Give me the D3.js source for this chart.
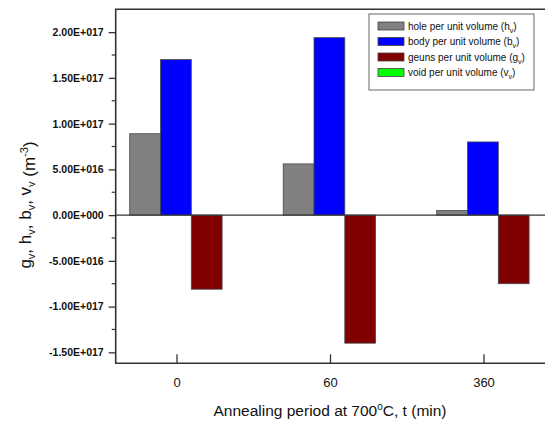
<!DOCTYPE html>
<html>
<head>
<meta charset="utf-8">
<script src="https://cdn.jsdelivr.net/npm/d3@7"></script>
<style>
  body { margin: 0; background: #fff; }
  svg { font-family: "Liberation Sans", Arial, sans-serif; }
</style>
</head>
<body>
<svg id="vis" width="545" height="430"></svg>
<script>
// annealing periods (min)
const periods = ["0", "60", "360"];

// per unit volume values (m^-3)
const holes = [8.9e16, 5.6e16, 0.5e16];
const bodies = [1.70e17, 1.94e17, 0.80e17];
const geuns = [-0.81e17, -1.40e17, -0.75e17];
const voids = [0, 0, 0];

const yTicks = [-1.5e17, -1.0e17, -0.5e17, 0, 0.5e17, 1.0e17, 1.5e17, 2.0e17];

const series = [
  { key: "h", name: "hole per unit volume", values: holes, color: "#808080" },
  { key: "b", name: "body per unit volume", values: bodies, color: "#0000ff" },
  { key: "g", name: "geuns per unit volume", values: geuns, color: "#800000" },
  { key: "v", name: "void per unit volume", values: voids, color: "#00ff00" }
];

const svg = d3.select("svg#vis");

const plot = { left: 115.7, right: 560, top: 9.3, bottom: 363.3 };

const y = d3.scaleLinear()
  .domain([-1.62e17, 2.25e17])
  .range([plot.bottom, plot.top]);

// category centers
const x = d3.scaleLinear()
  .domain([0, periods.length - 1])
  .range([176.5, 483.5]);

const barWidth = 30.8;
const groupOffset = -46.8;

// format like 2.00E+017
function sci(v) {
  const parts = v.toExponential(2).split("e");
  const sign = parts[1][0];
  const exp = parts[1].slice(1).padStart(3, "0");
  return parts[0] + "E" + sign + exp;
}

// bars
series.forEach(function(s, j) {
  svg.append("g").attr("class", "bars-" + s.key)
    .selectAll("rect")
    .data(s.values)
    .enter()
    .append("rect")
      .attr("x", (d, i) => x(i) + groupOffset + j * barWidth)
      .attr("y", d => Math.min(y(d), y(0)))
      .attr("width", barWidth)
      .attr("height", d => Math.abs(y(d) - y(0)))
      .attr("fill", s.color)
      .attr("stroke", "#4a4a4a")
      .attr("stroke-width", 0.8);
});

// zero line
svg.append("line")
  .attr("x1", plot.left).attr("x2", plot.right)
  .attr("y1", y(0)).attr("y2", y(0))
  .attr("stroke", "#333").attr("stroke-width", 1.2);

// frame
svg.append("path")
  .attr("d", `M${plot.right},${plot.top}H${plot.left}V${plot.bottom}H${plot.right}`)
  .attr("fill", "none")
  .attr("stroke", "#333")
  .attr("stroke-width", 1.6);

// y axis (major + minor ticks outside)
const yAxis = d3.axisLeft(y)
  .tickValues(yTicks)
  .tickSize(7)
  .tickPadding(5)
  .tickFormat(sci);

const ya = svg.append("g")
  .attr("transform", `translate(${plot.left},0)`)
  .call(yAxis);
ya.select(".domain").remove();
ya.selectAll(".tick line").attr("stroke", "#333").attr("stroke-width", 1.3);
ya.selectAll(".tick text")
  .attr("fill", "#111")
  .style("font-size", "10.5px")
  .style("font-weight", "bold");

const minor = d3.range(-1.5e17, 2.25e17, 0.25e17).filter(v => yTicks.indexOf(v) < 0);
svg.append("g").selectAll("line")
  .data(minor)
  .enter()
  .append("line")
    .attr("x1", plot.left - 4).attr("x2", plot.left)
    .attr("y1", d => y(d)).attr("y2", d => y(d))
    .attr("stroke", "#333").attr("stroke-width", 1.2);

// x axis (ticks inside)
const xAxis = d3.axisBottom(x)
  .tickValues(d3.range(periods.length))
  .tickSize(-9)
  .tickPadding(14)
  .tickFormat(i => periods[i]);

const xa = svg.append("g")
  .attr("transform", `translate(0,${plot.bottom})`)
  .call(xAxis);
xa.select(".domain").remove();
xa.selectAll(".tick line").attr("stroke", "#333").attr("stroke-width", 1.3);
xa.selectAll(".tick text")
  .attr("fill", "#111")
  .style("font-size", "13px");

// x title
const xt = svg.append("text")
  .attr("x", 330)
  .attr("y", 416)
  .attr("text-anchor", "middle")
  .attr("fill", "#111")
  .style("font-size", "15.5px");
xt.append("tspan").text("Annealing period at 700");
xt.append("tspan").attr("dy", -6).style("font-size", "10px").text("o");
xt.append("tspan").attr("dy", 6).text("C, t (min)");

// y title
const yt = svg.append("text")
  .attr("transform", "translate(31,205) rotate(-90)")
  .attr("text-anchor", "middle")
  .attr("fill", "#111")
  .style("font-size", "17px");
["g", "h", "b", "v"].forEach(function(c, k) {
  yt.append("tspan").attr("dy", k === 0 ? 0 : -4).text((k === 0 ? "" : ", ") + c);
  yt.append("tspan").attr("dy", 4).style("font-size", "11px").text("v");
});
yt.append("tspan").text(" (m");
yt.append("tspan").attr("dy", -7).style("font-size", "11px").text("-3");
yt.append("tspan").attr("dy", 7).text(")");

// legend
const legend = svg.append("g").attr("class", "legend");
legend.append("rect")
  .attr("x", 369).attr("y", 14)
  .attr("width", 165).attr("height", 76)
  .attr("fill", "#fff")
  .attr("stroke", "#666")
  .attr("stroke-width", 1);

const rows = legend.selectAll("g.row")
  .data(series)
  .enter()
  .append("g")
    .attr("class", "row")
    .attr("transform", (d, i) => `translate(378,${26 + i * 15.5})`);

rows.append("rect")
  .attr("x", 0).attr("y", -4)
  .attr("width", 26).attr("height", 8)
  .attr("fill", d => d.color)
  .attr("stroke", "#444")
  .attr("stroke-width", 0.8);

const lt = rows.append("text")
  .attr("x", 30).attr("y", 3.5)
  .attr("fill", "#111")
  .style("font-size", "10px");
lt.append("tspan").text(d => d.name + " (" + d.key);
lt.append("tspan").attr("dy", 3).style("font-size", "7px").text("v");
lt.append("tspan").attr("dy", -3).text(")");
</script>
</body>
</html>
